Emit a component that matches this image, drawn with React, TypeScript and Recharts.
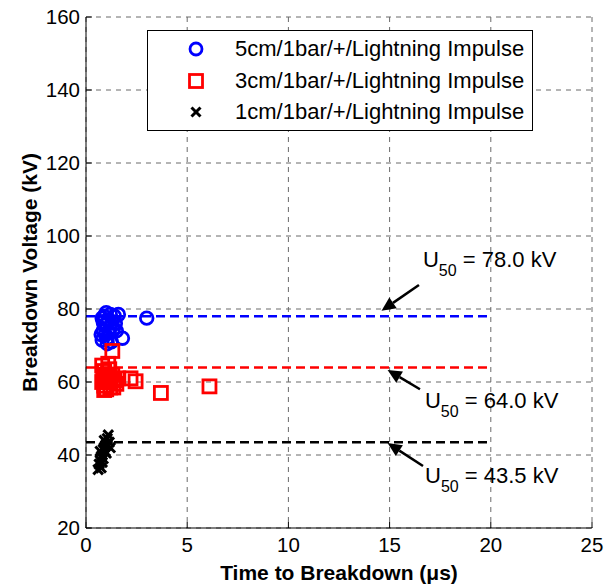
import React from "react";
import {
  CartesianGrid,
  Legend,
  ReferenceLine,
  Scatter,
  ScatterChart,
  XAxis,
  YAxis
} from "recharts";

const FONT = "'Liberation Sans', Arial, Helvetica, sans-serif";

const X_TICKS = [0, 5, 10, 15, 20, 25];
const Y_TICKS = [20, 40, 60, 80, 100, 120, 140, 160];

// 5 cm gap
const GAP5_TIME = [0.8, 0.9, 1.0, 1.1, 1.2, 0.85, 0.95, 1.05, 0.8, 1.3, 1.4, 1.6, 1.5, 1.15, 1.25, 1.8, 3.0, 1.0, 0.9, 1.35, 0.75, 1.2, 1.45, 1.05, 0.85];
const GAP5_VOLT = [77.5, 78, 76, 77, 75, 74, 73, 72, 71.5, 76.5, 78, 78.5, 74, 73.5, 71, 72, 77.5, 79, 75.5, 74.5, 73, 78.5, 76, 70.5, 76.5];

// 3 cm gap
const GAP3_TIME = [1.3, 0.8, 0.9, 1.0, 0.85, 1.1, 0.9, 1.2, 1.4, 1.5, 1.0, 1.3, 1.2, 0.95, 1.6, 2.2, 2.45, 3.7, 6.1, 1.1, 0.8, 1.15, 1.35, 0.9];
const GAP3_VOLT = [68.5, 64.5, 63, 62, 61, 60, 59, 58.5, 60.5, 59.5, 58, 62, 61, 60.5, 61, 61, 60.2, 57, 58.8, 65, 60, 63.5, 58.5, 57.8];

// 1 cm gap
const GAP1_TIME = [0.6, 0.65, 0.7, 0.75, 0.8, 0.7, 0.85, 0.9, 0.95, 1.0, 0.9, 1.05, 1.1, 1.0, 0.8, 1.15, 0.75, 1.2, 0.85, 0.95, 1.05];
const GAP1_VOLT = [36, 37.5, 38.5, 39.5, 40, 41, 41.5, 42, 42.5, 43, 44, 44.5, 45.5, 40.5, 38, 43.5, 36.5, 42, 39, 41, 42.8];

const SERIES_NAMES = [
  "5cm/1bar/+/Lightning Impulse",
  "3cm/1bar/+/Lightning Impulse",
  "1cm/1bar/+/Lightning Impulse"
];
const SERIES_COLORS = ["#0000ff", "#ff0000", "#000000"];

// U50 levels, drawn from t = 0 to U50_END
const U50 = [78.0, 64.0, 43.5];
const U50_END = 20;
const ARROW_TIP_T = [14.6, 14.9, 14.9];
const ARROW_TIP_V = [79.5, 63.3, 43.3];
const ARROW_TAIL_T = [16.45, 16.5, 16.65];
const ARROW_TAIL_V = [86.6, 58, 37];
// label offset from arrow tail (px)
const LABEL_DX = [4, 5, 2];
const LABEL_DY = [-18, 19, 17];

const toPoints = (ts: number[], vs: number[]) => ts.map((t, i) => ({ t, v: vs[i] }));

const gap5 = toPoints(GAP5_TIME, GAP5_VOLT);
const gap3 = toPoints(GAP3_TIME, GAP3_VOLT);
const gap1 = toPoints(GAP1_TIME, GAP1_VOLT);

const TICK_FONT = 20.5;
const TICK_LEN = 6;

function Circle(p: any) {
  return <circle cx={p.cx} cy={p.cy} r={6.3} fill="none" stroke={SERIES_COLORS[0]} strokeWidth={2.8} />;
}
function Square(p: any) {
  return <rect x={p.cx - 6.5} y={p.cy - 6.5} width={13} height={13} fill="none" stroke={SERIES_COLORS[1]} strokeWidth={2.8} />;
}
function Cross(p: any) {
  const s = 4.8;
  return (
    <g stroke={SERIES_COLORS[2]} strokeWidth={3}>
      <line x1={p.cx - s} y1={p.cy - s} x2={p.cx + s} y2={p.cy + s} />
      <line x1={p.cx - s} y1={p.cy + s} x2={p.cx + s} y2={p.cy - s} />
    </g>
  );
}

const MARGIN_B = 8;
const MARGIN_L = 6;

function BottomTick(p: any) {
  const ay = p.y - MARGIN_B;
  return (
    <g>
      <line x1={p.x} y1={ay} x2={p.x} y2={ay - TICK_LEN} stroke="#000" />
      <text x={p.x} y={p.y} dy="0.8em" textAnchor="middle" fontSize={TICK_FONT} fontFamily={FONT} fill="#000">
        {p.payload.value}
      </text>
    </g>
  );
}
function LeftTick(p: any) {
  const ax = p.x + MARGIN_L;
  return (
    <g>
      <line x1={ax} y1={p.y} x2={ax + TICK_LEN} y2={p.y} stroke="#000" />
      <text x={p.x} y={p.y} dy="0.36em" textAnchor="end" fontSize={TICK_FONT} fontFamily={FONT} fill="#000">
        {p.payload.value}
      </text>
    </g>
  );
}
function TopTick(p: any) {
  return <line x1={p.x} y1={p.y} x2={p.x} y2={p.y + TICK_LEN} stroke="#000" />;
}
function RightTick(p: any) {
  return <line x1={p.x} y1={p.y} x2={p.x - TICK_LEN} y2={p.y} stroke="#000" />;
}

function makeArrow(i: number) {
  return (p: any) => {
    const { x1, y1, x2, y2 } = p;
    // x1,y1 = tail ; x2,y2 = tip
    const dx = x2 - x1;
    const dy = y2 - y1;
    const len = Math.sqrt(dx * dx + dy * dy);
    const ux = dx / len;
    const uy = dy / len;
    const hl = 14;
    const hw = 6.5;
    const bx = x2 - ux * hl;
    const by = y2 - uy * hl;
    const tx = x1 + LABEL_DX[i];
    const ty = y1 + LABEL_DY[i];
    return (
      <g>
        <line x1={x1} y1={y1} x2={bx} y2={by} stroke="#000" strokeWidth={2.5} />
        <polygon
          points={`${x2},${y2} ${bx - uy * hw},${by + ux * hw} ${bx + uy * hw},${by - ux * hw}`}
          fill="#000"
        />
        <text x={tx} y={ty} fontFamily={FONT} fontSize={22} fill="#000">
          <tspan>U</tspan>
          <tspan dy={9} fontSize={16}>50</tspan>
          <tspan dy={-9}>{` = ${U50[i].toFixed(1)} kV`}</tspan>
        </text>
      </g>
    );
  };
}

function LegendBox() {
  const markers = [
    <circle cx={12} cy={12} r={6} fill="none" stroke={SERIES_COLORS[0]} strokeWidth={2.8} />,
    <rect x={5.5} y={5.5} width={13} height={13} fill="none" stroke={SERIES_COLORS[1]} strokeWidth={2.8} />,
    <g stroke="#000" strokeWidth={3}>
      <line x1={7.5} y1={7.5} x2={16.5} y2={16.5} />
      <line x1={7.5} y1={16.5} x2={16.5} y2={7.5} />
    </g>
  ];
  return (
    <div
      style={{
        position: "relative",
        width: 386,
        height: 101,
        boxSizing: "border-box",
        border: "1px solid #000",
        background: "#fff",
        fontFamily: FONT,
        fontSize: 22,
        color: "#000"
      }}
    >
      {SERIES_NAMES.map((name, i) => (
        <div
          key={name}
          style={{ position: "absolute", left: 0, top: 2 + i * 31.5, height: 32, display: "flex", alignItems: "center" }}
        >
          <svg width={24} height={24} style={{ marginLeft: 36 }}>{markers[i]}</svg>
          <span style={{ marginLeft: 27, whiteSpace: "nowrap" }}>{name}</span>
        </div>
      ))}
    </div>
  );
}

export default function App() {
  return (
    <div style={{ width: 614, height: 587, background: "#fff" }}>
      <style>{"body{margin:0}"}</style>
      <ScatterChart width={614} height={587} margin={{ top: 17, right: 22, bottom: 0, left: 0 }}>
        <CartesianGrid stroke="#6a6a6a" strokeDasharray="5 5" />
        <XAxis
          type="number"
          dataKey="t"
          domain={[0, 25]}
          ticks={X_TICKS}
          height={59}
          tickSize={0}
          tickMargin={MARGIN_B}
          tickLine={false}
          axisLine={{ stroke: "#000" }}
          tick={<BottomTick />}
          label={(props: any) => {
            const vb = props.viewBox;
            return (
              <text x={vb.x + vb.width / 2} y={580} textAnchor="middle" fontFamily={FONT} fontWeight="bold" fontSize={21}>
                Time to Breakdown (μs)
              </text>
            );
          }}
        />
        <XAxis
          xAxisId="top"
          orientation="top"
          type="number"
          domain={[0, 25]}
          ticks={X_TICKS}
          height={0}
          tickSize={0}
          tickMargin={0}
          tickLine={false}
          axisLine={{ stroke: "#000" }}
          tick={<TopTick />}
        />
        <YAxis
          type="number"
          dataKey="v"
          domain={[20, 160]}
          ticks={Y_TICKS}
          width={86}
          tickSize={0}
          tickMargin={MARGIN_L}
          tickLine={false}
          axisLine={{ stroke: "#000" }}
          tick={<LeftTick />}
          label={(props: any) => {
            const vb = props.viewBox;
            const cy = vb.y + vb.height / 2;
            return (
              <text
                x={29}
                y={cy}
                transform={`rotate(-90, 29, ${cy})`}
                textAnchor="middle"
                dy="0.36em"
                fontFamily={FONT}
                fontWeight="bold"
                fontSize={21}
              >
                Breakdown Voltage (kV)
              </text>
            );
          }}
        />
        <YAxis
          yAxisId="right"
          orientation="right"
          type="number"
          domain={[20, 160]}
          ticks={Y_TICKS}
          width={0}
          tickSize={0}
          tickMargin={0}
          tickLine={false}
          axisLine={{ stroke: "#000" }}
          tick={<RightTick />}
        />
        {U50.map((u, i) => (
          <ReferenceLine
            key={`u50-${i}`}
            segment={[{ x: 0, y: u }, { x: U50_END, y: u }]}
            stroke={SERIES_COLORS[i]}
            strokeWidth={2.5}
            strokeDasharray="9 5"
          />
        ))}
        <Scatter name={SERIES_NAMES[0]} data={gap5} shape={Circle} isAnimationActive={false} />
        <Scatter name={SERIES_NAMES[1]} data={gap3} shape={Square} isAnimationActive={false} />
        <Scatter name={SERIES_NAMES[2]} data={gap1} shape={Cross} isAnimationActive={false} />
        {U50.map((u, i) => (
          <ReferenceLine
            key={`arrow-${i}`}
            segment={[
              { x: ARROW_TAIL_T[i], y: ARROW_TAIL_V[i] },
              { x: ARROW_TIP_T[i], y: ARROW_TIP_V[i] }
            ]}
            shape={makeArrow(i)}
          />
        ))}
        <Legend
          layout="vertical"
          align="center"
          verticalAlign="middle"
          content={<LegendBox />}
          wrapperStyle={{ position: "absolute", left: 147, top: 30, width: 386, height: 101 }}
        />
      </ScatterChart>
    </div>
  );
}
